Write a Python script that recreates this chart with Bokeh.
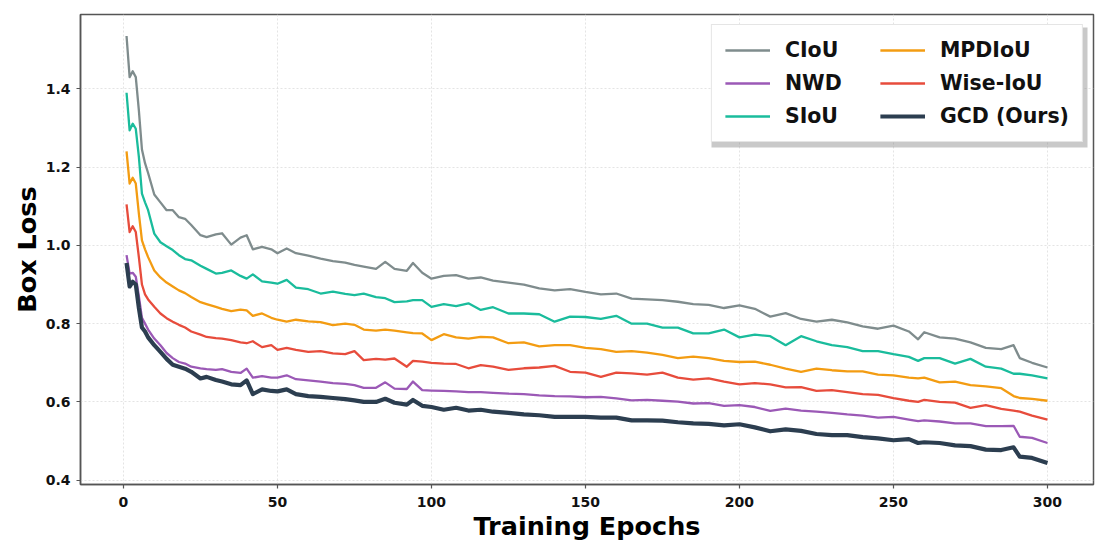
from bokeh.plotting import figure
from bokeh.models import Range1d, Legend, LegendItem, FixedTicker, PrintfTickFormatter, BoxAnnotation
from bokeh.embed import file_html
from bokeh.resources import INLINE

epochs = [1,2,3,4,5,6,7,8,10,12,14,16,18,20,22,25,27,30,32,35,38,40,42,45,48,50,
          53,56,60,64,68,72,75,78,82,85,88,92,94,97,100,104,108,112,116,120,
          125,130,135,140,145,150,155,160,165,170,175,180,185,190,195,200,205,210,
          215,220,225,230,235,240,245,250,255,258,260,265,270,275,280,285,289,291,295,300]

ciou = [1.535,1.43,1.445,1.43,1.345,1.245,1.21,1.185,1.13,1.11,1.09,1.09,1.072,1.068,1.052,1.026,1.021,1.028,1.031,1.002,1.02,1.026,0.99,0.996,0.99,0.98,
        0.992,0.98,0.974,0.966,0.96,0.956,0.95,0.946,0.94,0.958,0.94,0.935,0.955,0.93,0.915,0.922,0.924,0.915,0.918,0.91,
        0.905,0.9,0.89,0.885,0.888,0.881,0.875,0.877,0.864,0.862,0.86,0.856,0.85,0.848,0.84,0.847,0.838,0.818,
        0.827,0.812,0.805,0.81,0.803,0.793,0.787,0.795,0.78,0.76,0.778,0.765,0.762,0.752,0.738,0.735,0.745,0.712,0.7,0.688]

nwd = [0.975,0.928,0.93,0.92,0.87,0.815,0.8,0.785,0.762,0.745,0.725,0.712,0.702,0.698,0.69,0.686,0.684,0.682,0.684,0.677,0.674,0.685,0.662,0.666,0.662,0.662,
       0.668,0.658,0.655,0.652,0.648,0.646,0.643,0.636,0.636,0.65,0.634,0.633,0.652,0.63,0.629,0.628,0.627,0.625,0.625,0.623,
       0.621,0.62,0.617,0.615,0.614,0.612,0.613,0.609,0.604,0.605,0.603,0.601,0.596,0.597,0.59,0.592,0.587,0.577,
       0.583,0.578,0.575,0.572,0.568,0.565,0.56,0.562,0.555,0.551,0.553,0.55,0.545,0.545,0.538,0.538,0.539,0.511,0.508,0.495]

siou = [1.39,1.294,1.311,1.298,1.226,1.132,1.11,1.09,1.03,1.008,0.998,0.988,0.975,0.965,0.962,0.948,0.94,0.928,0.93,0.936,0.922,0.915,0.926,0.908,0.905,0.902,
        0.912,0.892,0.888,0.877,0.882,0.876,0.873,0.877,0.868,0.865,0.855,0.857,0.86,0.86,0.843,0.85,0.845,0.852,0.835,0.842,
        0.826,0.826,0.824,0.805,0.818,0.817,0.812,0.82,0.8,0.8,0.79,0.79,0.775,0.775,0.785,0.765,0.772,0.768,
        0.745,0.768,0.755,0.745,0.74,0.73,0.73,0.722,0.715,0.705,0.712,0.712,0.698,0.71,0.69,0.685,0.672,0.672,0.668,0.66]

mpdiou = [1.24,1.158,1.173,1.158,1.081,1.013,0.99,0.97,0.936,0.918,0.905,0.895,0.885,0.878,0.868,0.855,0.85,0.843,0.838,0.832,0.836,0.834,0.82,0.826,0.815,0.81,
          0.805,0.81,0.806,0.804,0.796,0.8,0.797,0.785,0.782,0.785,0.782,0.778,0.776,0.775,0.758,0.773,0.765,0.762,0.766,0.765,
          0.75,0.752,0.742,0.745,0.745,0.738,0.735,0.728,0.73,0.726,0.72,0.712,0.716,0.712,0.705,0.702,0.703,0.695,
          0.685,0.677,0.685,0.681,0.678,0.678,0.67,0.668,0.662,0.66,0.662,0.65,0.652,0.643,0.64,0.635,0.615,0.61,0.608,0.603]

wiseiou = [1.105,1.034,1.049,1.034,0.97,0.9,0.875,0.862,0.843,0.826,0.814,0.805,0.797,0.79,0.78,0.772,0.766,0.763,0.762,0.758,0.752,0.75,0.755,0.74,0.745,0.733,
           0.738,0.733,0.728,0.73,0.724,0.722,0.73,0.707,0.71,0.708,0.711,0.69,0.705,0.703,0.7,0.698,0.697,0.686,0.694,0.69,
           0.682,0.686,0.688,0.692,0.677,0.675,0.664,0.675,0.673,0.67,0.675,0.662,0.657,0.66,0.652,0.645,0.648,0.645,
           0.637,0.638,0.628,0.63,0.625,0.62,0.618,0.61,0.603,0.6,0.605,0.6,0.598,0.585,0.592,0.582,0.578,0.575,0.565,0.555]

gcd = [0.955,0.895,0.907,0.9,0.84,0.79,0.78,0.765,0.745,0.728,0.71,0.695,0.69,0.685,0.677,0.66,0.664,0.656,0.652,0.645,0.643,0.655,0.62,0.632,0.628,0.627,
       0.632,0.62,0.615,0.613,0.61,0.607,0.604,0.6,0.6,0.608,0.598,0.593,0.605,0.59,0.587,0.58,0.585,0.578,0.58,0.575,
       0.572,0.568,0.566,0.562,0.562,0.562,0.56,0.56,0.553,0.553,0.552,0.548,0.545,0.544,0.54,0.543,0.535,0.525,
       0.53,0.526,0.518,0.515,0.515,0.51,0.507,0.502,0.505,0.495,0.497,0.495,0.489,0.487,0.478,0.477,0.484,0.46,0.457,0.444]

names = ["CIoU", "NWD", "SIoU", "MPDIoU", "Wise-IoU", "GCD (Ours)"]
series = [ciou, nwd, siou, mpdiou, wiseiou, gcd]
colors = ["#7f8c8d", "#9b59b6", "#1abc9c", "#f39c12", "#e74c3c", "#2c3e50"]
widths = [2.3, 2.3, 2.3, 2.3, 2.3, 4.2]
x_ticks = [0, 50, 100, 150, 200, 250, 300]
y_ticks = [0.4, 0.6, 0.8, 1.0, 1.2, 1.4]
for s in series:
    assert len(s) == len(epochs), len(s)

FONT = "DejaVu Sans"

p = figure(width=1103, height=551, output_backend="svg", toolbar_location=None,
           x_range=Range1d(-13.95, 314.95), y_range=Range1d(0.389, 1.59),
           min_border_left=80, min_border_right=10, min_border_top=14, min_border_bottom=67)

renderers = []
for name, s, c, w in zip(names, series, colors, widths):
    r = p.line(epochs, s, line_color=c, line_width=w, line_join="round")
    renderers.append(r)

p.xaxis.ticker = FixedTicker(ticks=x_ticks)
p.yaxis.ticker = FixedTicker(ticks=y_ticks)
p.yaxis.formatter = PrintfTickFormatter(format="%.1f")
p.xaxis.axis_label = "Training Epochs"
p.yaxis.axis_label = "Box Loss"
for ax in (p.xaxis, p.yaxis):
    ax.axis_label_text_font = FONT
    ax.axis_label_text_font_style = "bold"
    ax.axis_label_text_font_size = "25.5px"
    ax.axis_label_text_color = "#000000"
    ax.major_label_text_font = FONT
    ax.major_label_text_font_style = "bold"
    ax.major_label_text_font_size = "14px"
    ax.major_label_text_color = "#111111"
    ax.axis_line_color = "#555555"
    ax.axis_line_width = 1.5
    ax.major_tick_line_color = "#555555"
    ax.major_tick_line_width = 1.2
    ax.major_tick_out = 4
    ax.major_tick_in = 0
    ax.minor_tick_line_color = None
p.xaxis.major_label_standoff = 8
p.yaxis.major_label_standoff = 6
p.xaxis.axis_label_standoff = 1
p.yaxis.axis_label_standoff = 1

p.outline_line_color = "#555555"
p.outline_line_width = 1.5
p.xgrid.grid_line_color = "#dddddd"
p.ygrid.grid_line_color = "#dddddd"
p.xgrid.grid_line_dash = "2 2"
p.ygrid.grid_line_dash = "2 2"
p.xgrid.grid_line_alpha = 0.8
p.ygrid.grid_line_alpha = 0.8

shadow = BoxAnnotation(left=711, right=1087, top=27, bottom=147,
                       left_units="canvas", right_units="canvas",
                       top_units="canvas", bottom_units="canvas",
                       fill_color="#888888", fill_alpha=0.45, line_color=None)
p.add_layout(shadow)

items = [LegendItem(label=n, renderers=[r]) for n, r in zip(names, renderers)]
legend = Legend(items=items, ncols=2, location="top_right",
                label_text_font=FONT, label_text_font_style="bold",
                label_text_font_size="20.5px", label_text_color="#111111",
                glyph_width=45, glyph_height=22, label_standoff=15, label_width=86,
                spacing=9, padding=13, margin=10,
                border_line_color="#cccccc", border_line_width=1.2,
                background_fill_color="#ffffff", background_fill_alpha=1.0)
p.add_layout(legend, "center")

open("out.html", "w").write(file_html(p, INLINE))
